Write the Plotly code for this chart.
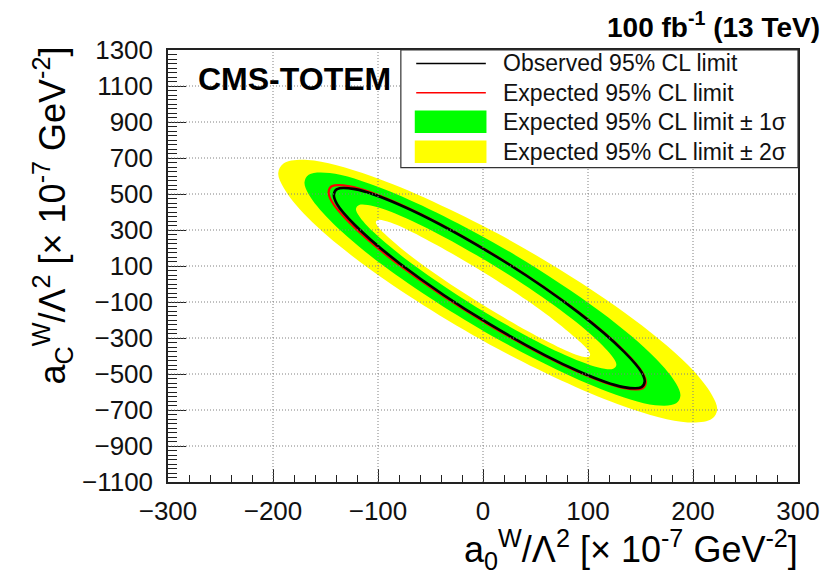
import plotly.graph_objects as go

# ---------------- data ----------------
x_ticks = [-300, -200, -100, 0, 100, 200, 300]
y_ticks = [-1100, -900, -700, -500, -300, -100, 100, 300, 500, 700, 900, 1100, 1300]

# outer edge of the +-2 sigma band (yellow)
sig2_outer_x = [14, -106, -167, -190, -195, -190, -167, -106, 14, 134, 195, 218, 223, 218, 195, 134, 14]
sig2_outer_y = [280, 599, 689, 669, 617, 536, 369, 75, -360, -679, -769, -749, -697, -616, -449, -155, 280]

# outer edge of the +-1 sigma band (green)
sig1_outer_x = [9, -94, -146, -166, -170, -166, -146, -94, 9, 112, 164, 184, 188, 184, 164, 112, 9]
sig1_outer_y = [234, 527, 617, 607, 565, 498, 355, 98, -290, -583, -673, -663, -621, -554, -411, -154, 234]

# expected 95% CL contour (red)
expected_x = [4, -83, -127, -144, -147, -144, -127, -83, 4, 91, 135, 152, 155, 152, 135, 91, 4]
expected_y = [185, 453, 543, 543, 512, 458, 340, 120, -221, -489, -579, -579, -548, -494, -376, -156, 185]

# observed 95% CL contour (black)
observed_x = [6, -79, -122, -139, -142, -139, -122, -79, 6, 91, 134, 151, 154, 151, 134, 91, 6]
observed_y = [176, 439, 527, 527, 497, 444, 328, 113, -222, -485, -573, -573, -543, -490, -374, -159, 176]

# inner edge of the +-1 sigma band
sig1_inner_x = [3, -68, -104, -118, -121, -118, -104, -68, 3, 74, 110, 124, 127, 124, 110, 74, 3]
sig1_inner_y = [129, 352, 432, 439, 418, 378, 287, 114, -161, -384, -464, -471, -450, -410, -319, -146, 129]

# inner edge of the +-2 sigma band
sig2_inner_x = [0, -59, -88, -100, -102, -100, -88, -59, 0, 59, 88, 100, 102, 100, 88, 59, 0]
sig2_inner_y = [67, 263, 341, 356, 345, 318, 249, 112, -117, -313, -391, -406, -395, -368, -299, -162, 67]

legend_labels = [
    "Observed 95% CL limit",
    "Expected 95% CL limit",
    "Expected 95% CL limit \u00b1 1\u03c3",
    "Expected 95% CL limit \u00b1 2\u03c3",
]

# ---------------- styling ----------------
FONT = "Liberation Sans, Arial, Helvetica, sans-serif"
YELLOW = "#FFFF00"
GREEN = "#00FF00"
RED = "#FF0000"
BLACK = "#000000"

fig = go.Figure()


def band(x, y, color, name):
    return go.Scatter(
        x=x, y=y, mode="lines", fill="toself", fillcolor=color,
        line=dict(width=0, color=color, shape="spline", smoothing=1),
        name=name, showlegend=False, hoverinfo="skip",
    )


fig.add_trace(band(sig2_outer_x, sig2_outer_y, YELLOW, legend_labels[3]))
fig.add_trace(band(sig1_outer_x, sig1_outer_y, GREEN, legend_labels[2]))
fig.add_trace(band(sig1_inner_x, sig1_inner_y, YELLOW, "inner 1 sigma"))
fig.add_trace(band(sig2_inner_x, sig2_inner_y, "#FFFFFF", "inner 2 sigma"))
fig.add_trace(go.Scatter(
    x=expected_x, y=expected_y, mode="lines", name=legend_labels[1],
    line=dict(color=RED, width=2.2, shape="spline", smoothing=1), showlegend=False))
fig.add_trace(go.Scatter(
    x=observed_x, y=observed_y, mode="lines", name=legend_labels[0],
    line=dict(color=BLACK, width=2.6, shape="spline", smoothing=1), showlegend=False))

shapes = []
# dotted grid drawn on top of the filled bands (as in the ROOT original)
for xv in x_ticks[1:-1]:
    shapes.append(dict(type="line", xref="x", yref="paper", x0=xv, x1=xv, y0=0, y1=1,
                       line=dict(color="#808080", width=1, dash="1px,2px"), layer="above"))
for yv in y_ticks[1:-1]:
    shapes.append(dict(type="line", xref="paper", yref="y", x0=0, x1=1, y0=yv, y1=yv,
                       line=dict(color="#808080", width=1, dash="1px,2px"), layer="above"))

# legend box
shapes.append(dict(type="rect", xref="paper", yref="paper", x0=0.3696, x1=1.0, y0=0.7275, y1=1.0,
                   fillcolor="white", line=dict(color="#333333", width=1.2), layer="above"))
row_y = [0.969, 0.901, 0.834, 0.7646]
sym_x0, sym_x1 = 0.394, 0.5045
shapes.append(dict(type="line", xref="paper", yref="paper", x0=sym_x0, x1=sym_x1,
                   y0=row_y[0], y1=row_y[0], line=dict(color=BLACK, width=1.5), layer="above"))
shapes.append(dict(type="line", xref="paper", yref="paper", x0=sym_x0, x1=sym_x1,
                   y0=row_y[1], y1=row_y[1], line=dict(color=RED, width=1.5), layer="above"))
shapes.append(dict(type="rect", xref="paper", yref="paper", x0=0.3917, x1=0.5055,
                   y0=row_y[2] - 0.026, y1=row_y[2] + 0.026, fillcolor=GREEN,
                   line=dict(width=0), layer="above"))
shapes.append(dict(type="rect", xref="paper", yref="paper", x0=0.3917, x1=0.5055,
                   y0=row_y[3] - 0.026, y1=row_y[3] + 0.026, fillcolor=YELLOW,
                   line=dict(width=0), layer="above"))

annotations = []
for lab, ry in zip(legend_labels, row_y):
    annotations.append(dict(text=lab, xref="paper", yref="paper", x=0.528, y=ry,
                            xanchor="left", yanchor="middle", showarrow=False,
                            font=dict(family=FONT, size=23, color="#111111")))

annotations.append(dict(text="<b>CMS-TOTEM</b>", xref="paper", yref="paper", x=0.045, y=0.933,
                        xanchor="left", yanchor="middle", showarrow=False,
                        font=dict(family=FONT, size=32, color=BLACK)))
annotations.append(dict(text="<b>100 fb<sup>-1</sup> (13 TeV)</b>", xref="paper", yref="paper",
                        x=1.038, y=1.058, xanchor="right", yanchor="middle", showarrow=False,
                        font=dict(family=FONT, size=28, color=BLACK)))
annotations.append(dict(text="a<sub>0</sub><sup>W</sup>/\u039b<sup>2</sup> [\u00d7 10<sup>-7</sup> GeV<sup>-2</sup>]",
                        xref="paper", yref="paper", x=1.003, y=-0.157,
                        xanchor="right", yanchor="middle", showarrow=False,
                        font=dict(family=FONT, size=36, color=BLACK)))
annotations.append(dict(text="a<sub>C</sub><sup>W</sup>/\u039b<sup>2</sup> [\u00d7 10<sup>-7</sup> GeV<sup>-2</sup>]",
                        xref="paper", yref="paper", x=-0.183, y=1.012, textangle=-90,
                        xanchor="center", yanchor="top", showarrow=False,
                        font=dict(family=FONT, size=36, color=BLACK)))

axis_common = dict(
    showgrid=False, zeroline=False, showline=True, linecolor="#222222", linewidth=1.5,
    mirror=True, ticks="inside", tickcolor="#222222", tickwidth=1,
    tickfont=dict(family=FONT, size=26, color="#111111"), layer="above traces",
    tickmode="array",
)

fig.update_layout(
    width=832, height=578, autosize=False,
    margin=dict(l=168, r=29, t=50, b=96, pad=0),
    paper_bgcolor="white", plot_bgcolor="white",
    showlegend=False,
    xaxis=dict(range=[-300, 300], tickvals=x_ticks, ticklen=13, ticklabelstandoff=5,
               minor=dict(dtick=20, tick0=-300, ticks="inside", ticklen=7,
                          tickcolor="#222222", showgrid=False),
               **axis_common),
    yaxis=dict(range=[-1100, 1300], tickvals=y_ticks, ticklen=18, ticklabelstandoff=8,
               minor=dict(dtick=25, tick0=-1100, ticks="inside", ticklen=9,
                          tickcolor="#222222", showgrid=False),
               **axis_common),
    shapes=shapes,
    annotations=annotations,
)

fig.write_html("out.html")
